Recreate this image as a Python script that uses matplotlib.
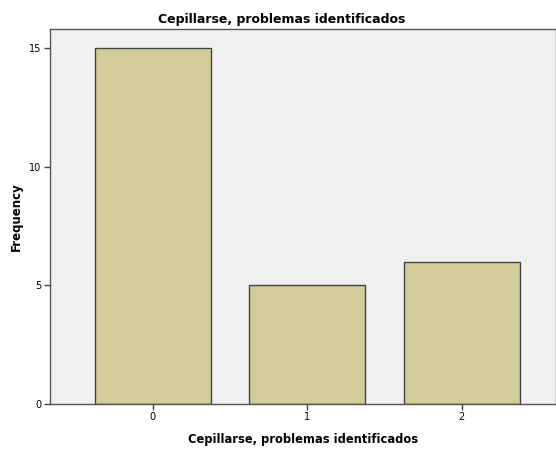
import numpy as np
import matplotlib.pyplot as plt

# category codes and counts
categories = ["0", "1", "2"]
frequencies = [15, 5, 6]
y_ticks = [0, 5, 10, 15]

fig = plt.figure(figsize=(5.56, 4.49), dpi=100)
W, H = 556, 449
# plot area in pixels: left 50, top 29, bottom 404, right edge of image
ax = fig.add_axes([50 / W, (H - 404) / H, (W - 50) / W, (404 - 29) / H])

x = np.arange(len(categories))
ax.set_facecolor("#F0F0F0")
ax.bar(x, frequencies, width=0.75, color="#D3CE99", edgecolor="#444444", linewidth=1.0, zorder=2)

ax.set_xlim(-0.665, 2.61)
ax.set_ylim(0, 15.8)
ax.set_xticks(x)
ax.set_xticklabels(categories)
ax.set_yticks(y_ticks)
ax.tick_params(axis="both", direction="out", length=4, width=1, color="#444444", labelsize=7, pad=2)

for side in ["left", "bottom", "top", "right"]:
    ax.spines[side].set_color("#555555")
    ax.spines[side].set_linewidth(1)

# title is centred on the figure rather than the plot area
ax.set_title("Cepillarse, problemas identificados", fontsize=9, fontweight="bold", pad=4,
             x=(282 - 50) / (W - 50))
ax.set_xlabel("Cepillarse, problemas identificados", fontsize=8.3, fontweight="bold", labelpad=8)
ax.set_ylabel("Frequency", fontsize=8.5, fontweight="bold")
# label coord is the right edge of the rotated text
ax.yaxis.set_label_coords(-(50 - 23) / (W - 50), 0.5)

plt.savefig("out.png", dpi=100)
